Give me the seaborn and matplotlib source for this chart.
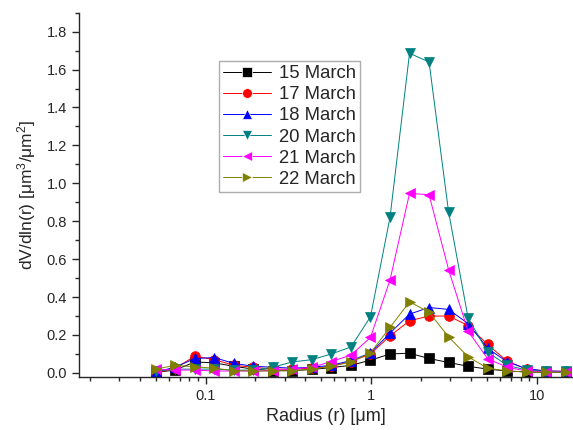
import numpy as np
import pandas as pd
import matplotlib
matplotlib.use("Agg")
import matplotlib.pyplot as plt
import seaborn as sns
from matplotlib.ticker import MultipleLocator, LogLocator, NullFormatter, FuncFormatter

radius = [0.05, 0.0656, 0.0861, 0.1129, 0.1482, 0.1944, 0.2551, 0.3347, 0.4392, 0.5762, 0.7561,
          0.9920, 1.3016, 1.7078, 2.2407, 2.9400, 3.8575, 5.0613, 6.6407, 8.7131, 11.4323, 15.0]

mar15 = [0.003, 0.015, 0.058, 0.053, 0.035, 0.02, 0.012, 0.012, 0.018, 0.028, 0.04,
         0.067, 0.100, 0.104, 0.076, 0.055, 0.035, 0.02, 0.01, 0.005, 0.003, 0.003]
mar17 = [0.0, 0.025, 0.088, 0.07, 0.04, 0.03, 0.02, 0.02, 0.025, 0.035, 0.06,
         0.10, 0.195, 0.275, 0.30, 0.30, 0.25, 0.15, 0.062, 0.02, 0.01, 0.008]
mar18 = [0.005, 0.03, 0.076, 0.081, 0.05, 0.035, 0.03, 0.025, 0.03, 0.04, 0.065,
         0.105, 0.21, 0.31, 0.345, 0.335, 0.26, 0.13, 0.058, 0.022, 0.01, 0.008]
mar20 = [0.01, 0.02, 0.02, 0.02, 0.015, 0.015, 0.03, 0.058, 0.07, 0.10, 0.137,
         0.296, 0.82, 1.686, 1.64, 0.85, 0.29, 0.11, 0.04, 0.015, 0.008, 0.008]
mar21 = [0.02, 0.015, 0.015, 0.01, 0.01, 0.01, 0.012, 0.02, 0.03, 0.06, 0.094,
         0.187, 0.49, 0.947, 0.94, 0.545, 0.22, 0.075, 0.03, 0.01, 0.005, 0.005]
mar22 = [0.02, 0.04, 0.032, 0.025, 0.012, 0.01, 0.01, 0.012, 0.02, 0.035, 0.058,
         0.106, 0.24, 0.375, 0.32, 0.19, 0.085, 0.025, 0.01, 0.005, 0.003, 0.003]

labels = ["15 March", "17 March", "18 March", "20 March", "21 March", "22 March"]
series = [mar15, mar17, mar18, mar20, mar21, mar22]
colors = ["#000000", "#ff0000", "#0000ff", "#008080", "#ff00ff", "#808000"]
markers = ["s", "o", "^", "v", "<", ">"]

df = pd.concat(
    [pd.DataFrame({"radius": radius, "value": s, "date": lab}) for lab, s in zip(labels, series)],
    ignore_index=True,
)

sns.set_style("ticks")
plt.rcParams["font.family"] = ["Liberation Sans", "DejaVu Sans"]
plt.rcParams["mathtext.fontset"] = "custom"
plt.rcParams["mathtext.rm"] = "Liberation Sans"
plt.rcParams["mathtext.it"] = "Liberation Sans:italic"

fig = plt.figure(figsize=(5.73, 4.30), dpi=100)
ax = fig.add_axes([79 / 573, 1 - 376.7 / 430, (573 - 79) / 573, (376.7 - 12.7) / 430])

sns.lineplot(
    data=df, x="radius", y="value", hue="date", style="date",
    palette=dict(zip(labels, colors)), markers=dict(zip(labels, markers)),
    dashes=False, linewidth=0.7, markersize=7, markeredgewidth=0.5,
    ax=ax, legend="full",
)
for line, c in zip(ax.lines, colors):
    line.set_markeredgecolor(c)

ax.set_xscale("log")
ax.set_xlim(0.0172, 16.6)
ax.set_ylim(-0.02, 1.9)
ax.yaxis.set_major_locator(MultipleLocator(0.2))
ax.yaxis.set_minor_locator(MultipleLocator(0.1))
ax.yaxis.set_major_formatter(FuncFormatter(lambda v, p: f"{v:.1f}"))
ax.xaxis.set_major_locator(LogLocator(base=10, numticks=10))
ax.xaxis.set_minor_locator(LogLocator(base=10, subs=np.arange(2, 10), numticks=20))
ax.xaxis.set_minor_formatter(NullFormatter())
ax.xaxis.set_major_formatter(FuncFormatter(lambda v, p: f"{v:g}"))
ax.tick_params(which="major", length=5, width=1, labelsize=10.5, direction="out")
ax.tick_params(which="minor", length=3, width=1, direction="out")
sns.despine(ax=ax)
for sp in ("left", "bottom"):
    ax.spines[sp].set_linewidth(1.0)

ax.set_xlabel("Radius (r) [μm]", fontsize=13, labelpad=4)
ax.set_ylabel("dV/dln(r) [μm$^3$/μm$^2$]", fontsize=12.5, labelpad=6)

leg = ax.legend(loc="upper left", bbox_to_anchor=(0.283, 0.868), fontsize=13.3,
                frameon=True, fancybox=False, edgecolor="#999999",
                handlelength=2.6, handletextpad=0.4, labelspacing=0.22,
                borderpad=0.25, borderaxespad=0)
leg.get_frame().set_linewidth(1.0)

fig.savefig("out.png", dpi=100)
